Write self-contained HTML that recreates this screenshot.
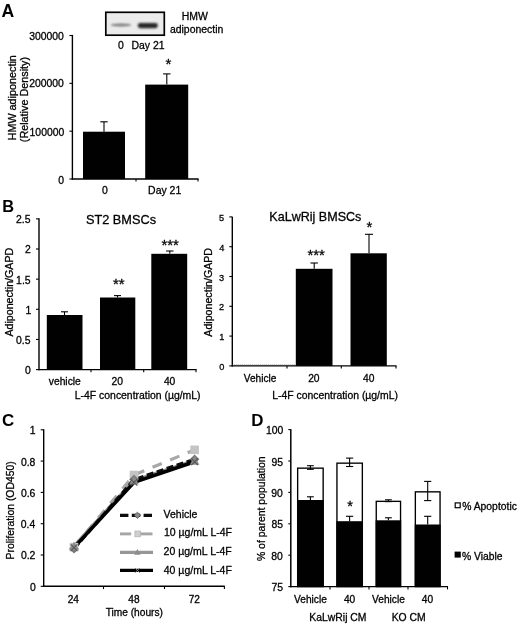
<!DOCTYPE html>
<html><head><meta charset="utf-8"><title>Figure</title>
<style>
html,body{margin:0;padding:0;background:#fff;}
body{width:520px;height:626px;overflow:hidden;}
svg{display:block;font-family:"Liberation Sans",sans-serif;fill:#000;}
</style></head><body>
<svg width="520" height="626" viewBox="0 0 520 626">
<defs><filter id="soft" x="0" y="0" width="100%" height="100%" filterUnits="userSpaceOnUse" primitiveUnits="userSpaceOnUse"><feGaussianBlur stdDeviation="0.35"/></filter><filter id="b1" x="-20%" y="-100%" width="140%" height="300%"><feGaussianBlur stdDeviation="0.8"/></filter></defs>
<rect x="0" y="0" width="520" height="626" fill="#fff"/>
<g style="opacity:0.999" filter="url(#soft)">
<text x="1.52" y="16.8" font-size="17.6" font-weight="bold">A</text>
<rect x="105.80" y="12.30" width="58.50" height="22.90" fill="#ebebeb" stroke="#000" stroke-width="1.7"/>
<ellipse cx="121" cy="25" rx="10.5" ry="1.5" fill="#7a7a7a" filter="url(#b1)"/>
<rect x="137.8" y="23" width="20" height="5.2" rx="2.4" fill="#262626" filter="url(#b1)"/>
<text x="181.78" y="19.9" font-size="10.45" stroke="#000" stroke-width="0.3">HMW</text>
<text x="169.92" y="32.7" font-size="10.45" stroke="#000" stroke-width="0.3">adiponectin</text>
<text x="118.0" y="49.1" font-size="10.45" stroke="#000" stroke-width="0.3">0</text>
<text x="131.48" y="49.1" font-size="10.45" stroke="#000" stroke-width="0.3">Day 21</text>
<text x="29.17" y="40.3" font-size="10.4" stroke="#000" stroke-width="0.3">300000</text>
<text x="29.17" y="87.4" font-size="10.4" stroke="#000" stroke-width="0.3">200000</text>
<text x="29.6" y="136.2" font-size="10.4" stroke="#000" stroke-width="0.3">100000</text>
<text x="58.2" y="183.6" font-size="10.4" stroke="#000" stroke-width="0.3">0</text>
<text x="102.05" y="194.1" font-size="10.45" stroke="#000" stroke-width="0.3">0</text>
<text x="148.12" y="194.1" font-size="10.45" stroke="#000" stroke-width="0.3">Day 21</text>
<text transform="translate(16.2,140.4) rotate(-90)" font-size="10.8" stroke="#000" stroke-width="0.3">HMW adiponectin</text>
<text transform="translate(27.8,142.18) rotate(-90)" font-size="10.8" stroke="#000" stroke-width="0.3">(Relative Density)</text>
<line x1="72.4" y1="34.9" x2="72.4" y2="179.6" stroke="#000" stroke-width="1.4" />
<line x1="71.80000000000001" y1="179.0" x2="198.6" y2="179.0" stroke="#000" stroke-width="1.4" />
<line x1="69.4" y1="179.0" x2="72.4" y2="179.0" stroke="#000" stroke-width="1.1" />
<line x1="69.4" y1="131.17000000000002" x2="72.4" y2="131.17000000000002" stroke="#000" stroke-width="1.1" />
<line x1="69.4" y1="83.34" x2="72.4" y2="83.34" stroke="#000" stroke-width="1.1" />
<line x1="69.4" y1="35.50999999999999" x2="72.4" y2="35.50999999999999" stroke="#000" stroke-width="1.1" />
<line x1="136" y1="179.0" x2="136" y2="181.6" stroke="#000" stroke-width="1.1" />
<line x1="198" y1="179.0" x2="198" y2="181.6" stroke="#000" stroke-width="1.1" />
<rect x="83.00" y="131.70" width="42.00" height="47.30" fill="#000"/>
<line x1="104" y1="131.7" x2="104" y2="121.8" stroke="#000" stroke-width="1.1" />
<line x1="100.3" y1="121.8" x2="107.7" y2="121.8" stroke="#000" stroke-width="1.1" />
<rect x="145.20" y="84.60" width="43.00" height="94.40" fill="#000"/>
<line x1="166.8" y1="84.6" x2="166.8" y2="73.9" stroke="#000" stroke-width="1.1" />
<line x1="163.10000000000002" y1="73.9" x2="170.5" y2="73.9" stroke="#000" stroke-width="1.1" />
<text x="168.30" y="68.50" font-size="15" text-anchor="middle" opacity="0.99" stroke="#000" stroke-width="0.3">*</text>
<text x="2.25" y="211.6" font-size="16.4" font-weight="bold">B</text>
<text x="85.98" y="223.9" font-size="12.74" stroke="#000" stroke-width="0.3">ST2 BMSCs</text>
<text x="16.1" y="223.2" font-size="10.4" stroke="#000" stroke-width="0.3">2.5</text>
<text x="24.98" y="253.3" font-size="10.4" stroke="#000" stroke-width="0.3">2</text>
<text x="16.12" y="283.5" font-size="10.4" stroke="#000" stroke-width="0.3">1.5</text>
<text x="25.4" y="313.7" font-size="10.4" stroke="#000" stroke-width="0.3">1</text>
<text x="16.1" y="343.8" font-size="10.4" stroke="#000" stroke-width="0.3">0.5</text>
<text x="24.9" y="374.3" font-size="10.4" stroke="#000" stroke-width="0.3">0</text>
<text x="48.75" y="385.3" font-size="10.3" stroke="#000" stroke-width="0.3">vehicle</text>
<text x="111.55" y="385.3" font-size="10.3" stroke="#000" stroke-width="0.3">20</text>
<text x="163.88" y="385.3" font-size="10.3" stroke="#000" stroke-width="0.3">40</text>
<text x="74.82" y="398.8" font-size="10.42" stroke="#000" stroke-width="0.3">L-4F concentration (µg/mL)</text>
<text transform="translate(12.6,336.52) rotate(-90)" font-size="10.65" stroke="#000" stroke-width="0.3">Adiponectin/GAPD</text>
<line x1="39.0" y1="218.2" x2="39.0" y2="370.20000000000005" stroke="#000" stroke-width="1.4" />
<line x1="38.4" y1="369.6" x2="196.6" y2="369.6" stroke="#000" stroke-width="1.4" />
<line x1="36.0" y1="369.6" x2="39.0" y2="369.6" stroke="#000" stroke-width="1.1" />
<line x1="36.0" y1="339.45000000000005" x2="39.0" y2="339.45000000000005" stroke="#000" stroke-width="1.1" />
<line x1="36.0" y1="309.3" x2="39.0" y2="309.3" stroke="#000" stroke-width="1.1" />
<line x1="36.0" y1="279.15000000000003" x2="39.0" y2="279.15000000000003" stroke="#000" stroke-width="1.1" />
<line x1="36.0" y1="249.00000000000003" x2="39.0" y2="249.00000000000003" stroke="#000" stroke-width="1.1" />
<line x1="36.0" y1="218.85000000000002" x2="39.0" y2="218.85000000000002" stroke="#000" stroke-width="1.1" />
<line x1="91" y1="369.6" x2="91" y2="372.20000000000005" stroke="#000" stroke-width="1.1" />
<line x1="143.7" y1="369.6" x2="143.7" y2="372.20000000000005" stroke="#000" stroke-width="1.1" />
<line x1="196" y1="369.6" x2="196" y2="372.20000000000005" stroke="#000" stroke-width="1.1" />
<rect x="46.80" y="315.00" width="35.70" height="54.60" fill="#000"/>
<line x1="64.5" y1="315" x2="64.5" y2="311.8" stroke="#000" stroke-width="1.1" />
<line x1="61.0" y1="311.8" x2="68.0" y2="311.8" stroke="#000" stroke-width="1.1" />
<rect x="100.00" y="297.50" width="35.30" height="72.10" fill="#000"/>
<line x1="117.5" y1="297.5" x2="117.5" y2="295.6" stroke="#000" stroke-width="1.1" />
<line x1="114.0" y1="295.6" x2="121.0" y2="295.6" stroke="#000" stroke-width="1.1" />
<rect x="151.30" y="253.80" width="35.90" height="115.80" fill="#000"/>
<line x1="169.8" y1="253.8" x2="169.8" y2="251.0" stroke="#000" stroke-width="1.1" />
<line x1="166.10000000000002" y1="251.0" x2="173.5" y2="251.0" stroke="#000" stroke-width="1.1" />
<text x="115.80" y="289.40" font-size="15" text-anchor="middle" opacity="0.99" stroke="#000" stroke-width="0.3">*</text>
<text x="121.60" y="289.40" font-size="15" text-anchor="middle" opacity="0.99" stroke="#000" stroke-width="0.3">*</text>
<text x="164.40" y="249.90" font-size="15" text-anchor="middle" opacity="0.99" stroke="#000" stroke-width="0.3">*</text>
<text x="170.20" y="249.90" font-size="15" text-anchor="middle" opacity="0.99" stroke="#000" stroke-width="0.3">*</text>
<text x="176.00" y="249.90" font-size="15" text-anchor="middle" opacity="0.99" stroke="#000" stroke-width="0.3">*</text>
<text x="269.35" y="221.0" font-size="12.56" stroke="#000" stroke-width="0.3">KaLwRij BMSCs</text>
<text x="219.08" y="221.0" font-size="9.2" stroke="#000" stroke-width="0.3">5</text>
<text x="219.2" y="250.7" font-size="9.2" stroke="#000" stroke-width="0.3">4</text>
<text x="219.08" y="280.5" font-size="9.2" stroke="#000" stroke-width="0.3">3</text>
<text x="219.08" y="310.3" font-size="9.2" stroke="#000" stroke-width="0.3">2</text>
<text x="219.25" y="340.3" font-size="9.2" stroke="#000" stroke-width="0.3">1</text>
<text x="219.2" y="370.0" font-size="9.2" stroke="#000" stroke-width="0.3">0</text>
<text x="243.75" y="382.0" font-size="10.1" stroke="#000" stroke-width="0.3">Vehicle</text>
<text x="308.15" y="382.0" font-size="10.3" stroke="#000" stroke-width="0.3">20</text>
<text x="363.12" y="382.0" font-size="10.3" stroke="#000" stroke-width="0.3">40</text>
<text x="272.23" y="398.8" font-size="10.42" stroke="#000" stroke-width="0.3">L-4F concentration (µg/mL)</text>
<text transform="translate(211.8,336.68) rotate(-90)" font-size="10.65" stroke="#000" stroke-width="0.3">Adiponectin/GAPD</text>
<line x1="232.3" y1="216.7" x2="232.3" y2="366.5" stroke="#000" stroke-width="1.4" />
<line x1="231.70000000000002" y1="365.9" x2="396.6" y2="365.9" stroke="#000" stroke-width="1.4" />
<line x1="232.3" y1="364.95" x2="295" y2="364.95" stroke="#444" stroke-width="0.7" stroke-dasharray="1 1"/>
<line x1="229.3" y1="365.9" x2="232.3" y2="365.9" stroke="#000" stroke-width="1.1" />
<line x1="229.3" y1="336.09999999999997" x2="232.3" y2="336.09999999999997" stroke="#000" stroke-width="1.1" />
<line x1="229.3" y1="306.29999999999995" x2="232.3" y2="306.29999999999995" stroke="#000" stroke-width="1.1" />
<line x1="229.3" y1="276.5" x2="232.3" y2="276.5" stroke="#000" stroke-width="1.1" />
<line x1="229.3" y1="246.7" x2="232.3" y2="246.7" stroke="#000" stroke-width="1.1" />
<line x1="229.3" y1="216.89999999999998" x2="232.3" y2="216.89999999999998" stroke="#000" stroke-width="1.1" />
<line x1="287" y1="365.9" x2="287" y2="368.5" stroke="#000" stroke-width="1.1" />
<line x1="341.3" y1="365.9" x2="341.3" y2="368.5" stroke="#000" stroke-width="1.1" />
<line x1="396" y1="365.9" x2="396" y2="368.5" stroke="#000" stroke-width="1.1" />
<rect x="295.80" y="268.80" width="36.70" height="97.10" fill="#000"/>
<line x1="314.2" y1="268.8" x2="314.2" y2="263" stroke="#000" stroke-width="1.1" />
<line x1="310.5" y1="263" x2="317.9" y2="263" stroke="#000" stroke-width="1.1" />
<rect x="350.50" y="253.30" width="36.30" height="112.60" fill="#000"/>
<line x1="369" y1="253.3" x2="369" y2="234.3" stroke="#000" stroke-width="1.1" />
<line x1="365" y1="234.3" x2="373" y2="234.3" stroke="#000" stroke-width="1.1" />
<text x="310.40" y="259.90" font-size="15" text-anchor="middle" opacity="0.99" stroke="#000" stroke-width="0.3">*</text>
<text x="316.20" y="259.90" font-size="15" text-anchor="middle" opacity="0.99" stroke="#000" stroke-width="0.3">*</text>
<text x="322.00" y="259.90" font-size="15" text-anchor="middle" opacity="0.99" stroke="#000" stroke-width="0.3">*</text>
<text x="369.30" y="232.40" font-size="15" text-anchor="middle" opacity="0.99" stroke="#000" stroke-width="0.3">*</text>
<text x="1.9" y="426.4" font-size="16.9" font-weight="bold">C</text>
<text x="29.7" y="434.2" font-size="10.4" stroke="#000" stroke-width="0.3">1</text>
<text x="20.95" y="465.7" font-size="10.4" stroke="#000" stroke-width="0.3">0.8</text>
<text x="20.95" y="496.9" font-size="10.4" stroke="#000" stroke-width="0.3">0.6</text>
<text x="20.82" y="527.9" font-size="10.4" stroke="#000" stroke-width="0.3">0.4</text>
<text x="20.95" y="559.4" font-size="10.4" stroke="#000" stroke-width="0.3">0.2</text>
<text x="29.9" y="590.7" font-size="10.4" stroke="#000" stroke-width="0.3">0</text>
<text x="67.65" y="602.7" font-size="10.1" stroke="#000" stroke-width="0.3">24</text>
<text x="128.35" y="602.7" font-size="10.1" stroke="#000" stroke-width="0.3">48</text>
<text x="188.68" y="602.7" font-size="10.1" stroke="#000" stroke-width="0.3">72</text>
<text x="105.65" y="615.8" font-size="10.2" stroke="#000" stroke-width="0.3">Time (hours)</text>
<text x="163.6" y="518.2" font-size="10.5" stroke="#000" stroke-width="0.3">Vehicle</text>
<text x="163.9" y="536.4" font-size="10.5" stroke="#000" stroke-width="0.3">10 µg/mL L-4F</text>
<text x="163.62" y="555.2" font-size="10.5" stroke="#000" stroke-width="0.3">20 µg/mL L-4F</text>
<text x="163.75" y="574.0" font-size="10.5" stroke="#000" stroke-width="0.3">40 µg/mL L-4F</text>
<text transform="translate(14.4,559.42) rotate(-90)" font-size="10.4" stroke="#000" stroke-width="0.3">Proliferation (OD450)</text>
<line x1="43.7" y1="429.2" x2="43.7" y2="586.9" stroke="#000" stroke-width="1.4" />
<line x1="43.1" y1="586.3" x2="224.8" y2="586.3" stroke="#000" stroke-width="1.4" />
<line x1="40.7" y1="586.3" x2="43.7" y2="586.3" stroke="#000" stroke-width="1.1" />
<line x1="40.7" y1="555.0" x2="43.7" y2="555.0" stroke="#000" stroke-width="1.1" />
<line x1="40.7" y1="523.6999999999999" x2="43.7" y2="523.6999999999999" stroke="#000" stroke-width="1.1" />
<line x1="40.7" y1="492.4" x2="43.7" y2="492.4" stroke="#000" stroke-width="1.1" />
<line x1="40.7" y1="461.09999999999997" x2="43.7" y2="461.09999999999997" stroke="#000" stroke-width="1.1" />
<line x1="40.7" y1="429.79999999999995" x2="43.7" y2="429.79999999999995" stroke="#000" stroke-width="1.1" />
<line x1="103.5" y1="586.3" x2="103.5" y2="589.0999999999999" stroke="#000" stroke-width="1.1" />
<line x1="164.5" y1="586.3" x2="164.5" y2="589.0999999999999" stroke="#000" stroke-width="1.1" />
<line x1="224.4" y1="586.3" x2="224.4" y2="589.0999999999999" stroke="#000" stroke-width="1.1" />
<polyline points="74,547.2 134,475.0 194.6,449.8" fill="none" stroke="#a8a8a8" stroke-width="3.2" stroke-dasharray="10 9" stroke-linejoin="round"/>
<polyline points="74,546.2 134,480.5 194.6,460.6" fill="none" stroke="#909090" stroke-width="3.4" stroke-linejoin="round"/>
<polyline points="74,548.7 134,479.6 194.6,459.2" fill="none" stroke="#111" stroke-width="3.2" stroke-dasharray="7 3.5" stroke-linejoin="round"/>
<polyline points="74,547.6 134,482.4 194.6,461.7" fill="none" stroke="#000" stroke-width="3.6" stroke-linejoin="round"/>
<rect x="69.70" y="542.88" width="8.60" height="8.60" fill="#c4c4c4"/>
<rect x="129.70" y="470.73" width="8.60" height="8.60" fill="#c4c4c4"/>
<rect x="190.30" y="445.53" width="8.60" height="8.60" fill="#c4c4c4"/>
<path d="M69.2,548.74 L74,543.94 L78.8,548.74 L74,553.54Z" fill="#777"/>
<path d="M129.2,479.56699999999995 L134,474.76699999999994 L138.8,479.56699999999995 L134,484.36699999999996Z" fill="#777"/>
<path d="M189.79999999999998,459.222 L194.6,454.42199999999997 L199.4,459.222 L194.6,464.022Z" fill="#777"/>
<path d="M69.2,550.236 L74,541.436 L78.8,550.236Z" fill="#8c8c8c"/>
<path d="M129.2,484.506 L134,475.70599999999996 L138.8,484.506Z" fill="#8c8c8c"/>
<path d="M189.79999999999998,464.6304999999999 L194.6,455.8304999999999 L199.4,464.6304999999999Z" fill="#8c8c8c"/>
<path d="M70.7,544.3445 L77.3,550.9445 M70.7,550.9445 L77.3,544.3445" stroke="#555" stroke-width="1.1" fill="none"/>
<path d="M130.7,479.08399999999995 L137.3,485.68399999999997 M130.7,485.68399999999997 L137.3,479.08399999999995" stroke="#555" stroke-width="1.1" fill="none"/>
<path d="M191.29999999999998,458.42599999999993 L197.9,465.02599999999995 M191.29999999999998,465.02599999999995 L197.9,458.42599999999993" stroke="#555" stroke-width="1.1" fill="none"/>
<line x1="120.0" y1="515.3" x2="153.0" y2="515.3" stroke="#0a0a0a" stroke-width="3.2" stroke-dasharray="8.4 3.4"/>
<path d="M134.0,515.3 L137.4,512.1999999999999 L140.8,515.3 L137.4,518.4Z" fill="#8a8a8a" stroke="#333" stroke-width="0.6"/>
<line x1="120.0" y1="533.9" x2="131.2" y2="533.9" stroke="#a6a6a6" stroke-width="2.9000000000000004" />
<line x1="140" y1="533.9" x2="152.5" y2="533.9" stroke="#a6a6a6" stroke-width="2.9000000000000004" />
<rect x="134.90" y="531.00" width="5.60" height="5.80" fill="#cfcfcf" stroke="#b0b0b0" stroke-width="0.7"/>
<line x1="120.0" y1="552.3" x2="153.0" y2="552.3" stroke="#969696" stroke-width="3.2" />
<path d="M134.20000000000002,554.6999999999999 L137.4,549.0999999999999 L140.6,554.6999999999999Z" fill="#8c8c8c"/>
<line x1="120.0" y1="570.4" x2="153.0" y2="570.4" stroke="#000" stroke-width="3.2" />
<path d="M135.0,568.0 L139.8,572.8 M135.0,572.8 L139.8,568.0" stroke="#777" stroke-width="1" fill="none"/>
<text x="251.23" y="426.4" font-size="16.9" font-weight="bold">D</text>
<text x="265.98" y="434.1" font-size="10.4" stroke="#000" stroke-width="0.3">100</text>
<text x="271.4" y="465.6" font-size="10.4" stroke="#000" stroke-width="0.3">95</text>
<text x="271.27" y="497.0" font-size="10.4" stroke="#000" stroke-width="0.3">90</text>
<text x="271.4" y="528.2" font-size="10.4" stroke="#000" stroke-width="0.3">85</text>
<text x="271.27" y="559.5" font-size="10.4" stroke="#000" stroke-width="0.3">80</text>
<text x="271.4" y="591.0" font-size="10.4" stroke="#000" stroke-width="0.3">75</text>
<text x="294.0" y="603.4" font-size="10.2" stroke="#000" stroke-width="0.3">Vehicle</text>
<text x="343.92" y="603.4" font-size="10.2" stroke="#000" stroke-width="0.3">40</text>
<text x="372.0" y="603.4" font-size="10.2" stroke="#000" stroke-width="0.3">Vehicle</text>
<text x="421.72" y="603.4" font-size="10.2" stroke="#000" stroke-width="0.3">40</text>
<text x="309.35" y="621.3" font-size="10.4" stroke="#000" stroke-width="0.3">KaLwRij CM</text>
<text x="391.65" y="621.3" font-size="10.4" stroke="#000" stroke-width="0.3">KO CM</text>
<text x="462.22" y="510.0" font-size="10.35" stroke="#000" stroke-width="0.3">% Apoptotic</text>
<text x="461.92" y="560.0" font-size="10.35" stroke="#000" stroke-width="0.3">% Viable</text>
<text transform="translate(264.7,561.1) rotate(-90)" font-size="10.47" stroke="#000" stroke-width="0.3">% of parent population</text>
<line x1="290.8" y1="429.2" x2="290.8" y2="587.2" stroke="#000" stroke-width="1.5" />
<line x1="290.2" y1="586.6" x2="448" y2="586.6" stroke="#000" stroke-width="1.4" />
<line x1="288.3" y1="586.6" x2="290.8" y2="586.6" stroke="#000" stroke-width="1.1" />
<line x1="288.3" y1="555.2" x2="290.8" y2="555.2" stroke="#000" stroke-width="1.1" />
<line x1="288.3" y1="523.8000000000001" x2="290.8" y2="523.8000000000001" stroke="#000" stroke-width="1.1" />
<line x1="288.3" y1="492.40000000000003" x2="290.8" y2="492.40000000000003" stroke="#000" stroke-width="1.1" />
<line x1="288.3" y1="461.0" x2="290.8" y2="461.0" stroke="#000" stroke-width="1.1" />
<line x1="288.3" y1="429.6" x2="290.8" y2="429.6" stroke="#000" stroke-width="1.1" />
<line x1="330" y1="586.6" x2="330" y2="589.4" stroke="#000" stroke-width="1.1" />
<line x1="369" y1="586.6" x2="369" y2="589.4" stroke="#000" stroke-width="1.1" />
<line x1="408" y1="586.6" x2="408" y2="589.4" stroke="#000" stroke-width="1.1" />
<line x1="447.5" y1="586.6" x2="447.5" y2="589.4" stroke="#000" stroke-width="1.1" />
<rect x="297.65" y="468.15" width="25.50" height="118.45" fill="#fff" stroke="#000" stroke-width="1.35"/>
<rect x="297.00" y="500.00" width="26.80" height="86.60" fill="#000"/>
<line x1="310.4" y1="465.7" x2="310.4" y2="469.3" stroke="#000" stroke-width="1.1" />
<line x1="307.0" y1="465.7" x2="313.79999999999995" y2="465.7" stroke="#000" stroke-width="1.1" />
<line x1="307.0" y1="469.3" x2="313.79999999999995" y2="469.3" stroke="#000" stroke-width="1.1" />
<line x1="310.4" y1="500" x2="310.4" y2="496.8" stroke="#000" stroke-width="1.1" />
<line x1="307.0" y1="496.8" x2="313.79999999999995" y2="496.8" stroke="#000" stroke-width="1.1" />
<rect x="336.95" y="463.15" width="25.40" height="123.45" fill="#fff" stroke="#000" stroke-width="1.35"/>
<rect x="336.30" y="521.20" width="26.70" height="65.40" fill="#000"/>
<line x1="349.6" y1="458.1" x2="349.6" y2="466.5" stroke="#000" stroke-width="1.1" />
<line x1="346.0" y1="458.1" x2="353.20000000000005" y2="458.1" stroke="#000" stroke-width="1.1" />
<line x1="346.0" y1="466.5" x2="353.20000000000005" y2="466.5" stroke="#000" stroke-width="1.1" />
<line x1="349.6" y1="521.2" x2="349.6" y2="516.3" stroke="#000" stroke-width="1.1" />
<line x1="346.0" y1="516.3" x2="353.20000000000005" y2="516.3" stroke="#000" stroke-width="1.1" />
<text x="350.00" y="511.36" font-size="14.5" text-anchor="middle" opacity="0.99" stroke="#000" stroke-width="0.3">*</text>
<rect x="376.25" y="501.35" width="24.30" height="85.25" fill="#fff" stroke="#000" stroke-width="1.35"/>
<rect x="375.60" y="520.30" width="25.60" height="66.30" fill="#000"/>
<line x1="388.4" y1="499.8" x2="388.4" y2="501.59999999999997" stroke="#000" stroke-width="1.1" />
<line x1="385.0" y1="499.8" x2="391.79999999999995" y2="499.8" stroke="#000" stroke-width="1.1" />
<line x1="385.0" y1="501.59999999999997" x2="391.79999999999995" y2="501.59999999999997" stroke="#000" stroke-width="1.1" />
<line x1="388.4" y1="520.3" x2="388.4" y2="517.8" stroke="#000" stroke-width="1.1" />
<line x1="385.0" y1="517.8" x2="391.79999999999995" y2="517.8" stroke="#000" stroke-width="1.1" />
<rect x="415.35" y="491.85" width="24.70" height="94.75" fill="#fff" stroke="#000" stroke-width="1.35"/>
<rect x="414.70" y="524.50" width="26.00" height="62.10" fill="#000"/>
<line x1="427.7" y1="481.4" x2="427.7" y2="500.6" stroke="#000" stroke-width="1.1" />
<line x1="424.09999999999997" y1="481.4" x2="431.3" y2="481.4" stroke="#000" stroke-width="1.1" />
<line x1="424.09999999999997" y1="500.6" x2="431.3" y2="500.6" stroke="#000" stroke-width="1.1" />
<line x1="427.7" y1="524.5" x2="427.7" y2="516.3" stroke="#000" stroke-width="1.1" />
<line x1="424.09999999999997" y1="516.3" x2="431.3" y2="516.3" stroke="#000" stroke-width="1.1" />
<rect x="455.20" y="502.90" width="5.00" height="4.80" fill="#fff" stroke="#000" stroke-width="1.2"/>
<rect x="454.60" y="551.60" width="6.20" height="6.00" fill="#000"/>
</g>
</svg>
</body></html>
